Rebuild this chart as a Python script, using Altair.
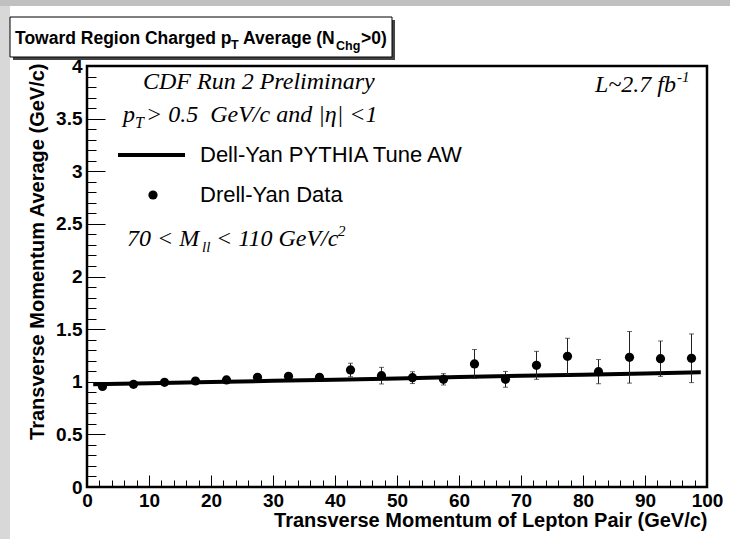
import altair as alt
import pandas as pd

# ---------------- data ----------------
pt_bins = [2.5, 7.5, 12.5, 17.5, 22.5, 27.5, 32.5, 37.5, 42.5, 47.5,
           52.5, 57.5, 62.5, 67.5, 72.5, 77.5, 82.5, 87.5, 92.5, 97.5]
data_avg = [0.955, 0.976, 0.995, 1.007, 1.017, 1.042, 1.052, 1.042, 1.112, 1.058,
            1.039, 1.023, 1.169, 1.023, 1.156, 1.242, 1.096, 1.232, 1.219, 1.223]
data_err = [0.010, 0.010, 0.012, 0.012, 0.015, 0.018, 0.020, 0.025, 0.064, 0.079,
            0.056, 0.054, 0.137, 0.075, 0.133, 0.171, 0.115, 0.245, 0.168, 0.231]

tune_pt = [1, 10, 20, 30, 40, 50, 60, 70, 80, 90, 99]
tune_avg = [0.976, 0.985, 0.997, 1.009, 1.020, 1.032, 1.044, 1.056, 1.067, 1.079, 1.090]

x_major = [0, 10, 20, 30, 40, 50, 60, 70, 80, 90, 100]
x_minor = list(range(0, 101, 2))
y_major = [0, 0.5, 1, 1.5, 2, 2.5, 3, 3.5, 4]
y_minor = [i / 10 for i in range(0, 41)]

W, H = 620, 421
SANS = "Liberation Sans"
SERIF = "Liberation Serif"

df = pd.DataFrame({"pt": pt_bins, "avg": data_avg, "err": data_err})
df["lo"] = df["avg"] - df["err"]
df["hi"] = df["avg"] + df["err"]
tune = pd.DataFrame({"pt": tune_pt, "avg": tune_avg})


def xs():
    return alt.Scale(domain=[0, 100], nice=False, zero=False)


def ys():
    return alt.Scale(domain=[0, 4], nice=False, zero=False)


def tick_x_axis(values, size):
    return alt.Axis(orient="top", offset=-H, values=values, tickSize=size, labels=False,
                    domain=False, grid=False, title="", tickColor="black", tickWidth=1)


def tick_y_axis(values, size):
    return alt.Axis(orient="right", offset=-W, values=values, tickSize=size, labels=False,
                    domain=False, grid=False, title="", tickColor="black", tickWidth=1)


blank = alt.Data(values=[{}])


def label(text, x, y, size, font=SANS, weight="normal", style="normal",
          align="left", baseline="alphabetic"):
    return alt.Chart(blank).mark_text(
        font=font, fontSize=size, fontWeight=weight, fontStyle=style,
        align=align, baseline=baseline, color="black"
    ).encode(x=alt.value(x), y=alt.value(y), text=alt.value(text))


def box(x, x2, y, y2, fill, stroke=None):
    kw = dict(fill=fill)
    if stroke:
        kw.update(stroke=stroke, strokeWidth=1)
    return alt.Chart(blank).mark_rect(**kw).encode(
        x=alt.value(x), x2=alt.value(x2), y=alt.value(y), y2=alt.value(y2))


# ---------------- layers ----------------
main_x_axis = alt.Axis(
    orient="bottom", values=x_major, format="d", labelFont=SANS, labelFontWeight="bold",
    labelFontSize=19, labelColor="black", labelPadding=4, labelFlush=False,
    labelOverlap=False, tickSize=0, domain=False, grid=False,
    title="Transverse Momentum of Lepton Pair (GeV/c)", titleFont=SANS,
    titleFontWeight="bold", titleFontSize=20, titleColor="black",
    titleAlign="right", titleX=W, titleY=39, titleBaseline="alphabetic")

main_y_axis = alt.Axis(
    orient="left", values=y_major, format="~g", labelFont=SANS, labelFontWeight="bold",
    labelFontSize=19, labelColor="black", labelPadding=5, labelFlush=False,
    labelOverlap=False, tickSize=0, domain=False, grid=False,
    title="Transverse Momentum Average (GeV/c)", titleFont=SANS, titleFontWeight="bold",
    titleFontSize=20, titleColor="black", titleAngle=-90, titleAlign="right",
    titleX=-50, titleY=-3, titleBaseline="middle")

tune_line = alt.Chart(tune).mark_line(color="black", strokeWidth=4).encode(
    x=alt.X("pt:Q", scale=xs(), axis=main_x_axis),
    y=alt.Y("avg:Q", scale=ys(), axis=main_y_axis))

err_rules = alt.Chart(df).mark_rule(color="#222222", strokeWidth=1).encode(
    x=alt.X("pt:Q", scale=xs(), axis=tick_x_axis(x_major, 12)),
    y=alt.Y("lo:Q", scale=ys(), axis=tick_y_axis(y_major, 18)),
    y2="hi:Q")

caps_hi = alt.Chart(df).mark_tick(color="#222222", orient="horizontal", size=5, thickness=1).encode(
    x=alt.X("pt:Q", scale=xs(), axis=tick_x_axis(x_minor, 7)),
    y=alt.Y("hi:Q", scale=ys(), axis=tick_y_axis(y_minor, 9)))

caps_lo = alt.Chart(df).mark_tick(color="#222222", orient="horizontal", size=5, thickness=1).encode(
    x=alt.X("pt:Q", scale=xs(), axis=None),
    y=alt.Y("lo:Q", scale=ys(), axis=None))

points = alt.Chart(df).mark_point(filled=True, shape="circle", size=85, color="black", opacity=1).encode(
    x=alt.X("pt:Q", scale=xs(), axis=None),
    y=alt.Y("avg:Q", scale=ys(), axis=None))

# decorations (page bands, title box)
bands = [
    box(-87, 643, -66, -60, "#c0c0c0"),
    box(-87, -77, -60, 473, "#d8d8d8"),
]
TS = 17.5
title_parts = [
    box(-74, 308, -46, -6, "#444444"),
    box(-77, 305, -49, -9, "white", "black"),
    label("Toward Region Charged p", -72, -22, TS, SANS, "bold"),
    label("T", 144, -17, 12.5, SANS, "bold"),
    label("Average (N", 156, -22, TS, SANS, "bold"),
    label("Chg", 249, -16, 12.5, SANS, "bold"),
    label(">0)", 274, -22, TS, SANS, "bold"),
]

SS = 24
annotations = [
    label("CDF Run 2 Preliminary", 56, 23, SS, SERIF, style="italic"),
    label("p", 36, 56, SS, SERIF, style="italic"),
    label("T", 48, 62, 16, SERIF, style="italic"),
    label("> 0.5\u00a0\u00a0GeV/c and |\u03b7| <1", 59, 56, SS, SERIF, style="italic"),
    alt.Chart(blank).mark_rule(color="black", strokeWidth=4).encode(
        x=alt.value(31), x2=alt.value(98), y=alt.value(89)),
    label("Dell-Yan PYTHIA Tune AW", 113, 89, 22, SANS, baseline="middle"),
    alt.Chart(blank).mark_point(filled=True, shape="circle", size=85, color="black", opacity=1).encode(
        x=alt.value(66), y=alt.value(129)),
    label("Drell-Yan Data", 113, 129, 22, SANS, baseline="middle"),
    label("70 < M", 40, 180, SS, SERIF, style="italic"),
    label("ll", 115, 186, 15, SERIF, style="italic"),
    label("< 110 GeV/c", 129, 180, SS, SERIF, style="italic"),
    label("2", 251, 170, 15, SERIF, style="italic"),
    label("L~2.7 fb", 589, 26, SS, SERIF, style="italic", align="right"),
    label("-1", 590, 16, 15, SERIF, style="italic"),
]

chart = alt.layer(
    *bands, *title_parts,
    tune_line, err_rules, caps_hi, caps_lo, points,
    *annotations,
).resolve_scale(x="independent", y="independent").properties(
    width=W, height=H,
    autosize=alt.AutoSizeParams(type="none"),
    padding={"left": 87, "top": 66, "right": 23, "bottom": 52},
    background="white",
).configure_view(stroke="black", strokeWidth=2.5, fill="white")

chart.save("out.html", embed_options={"renderer": "svg", "actions": False})
